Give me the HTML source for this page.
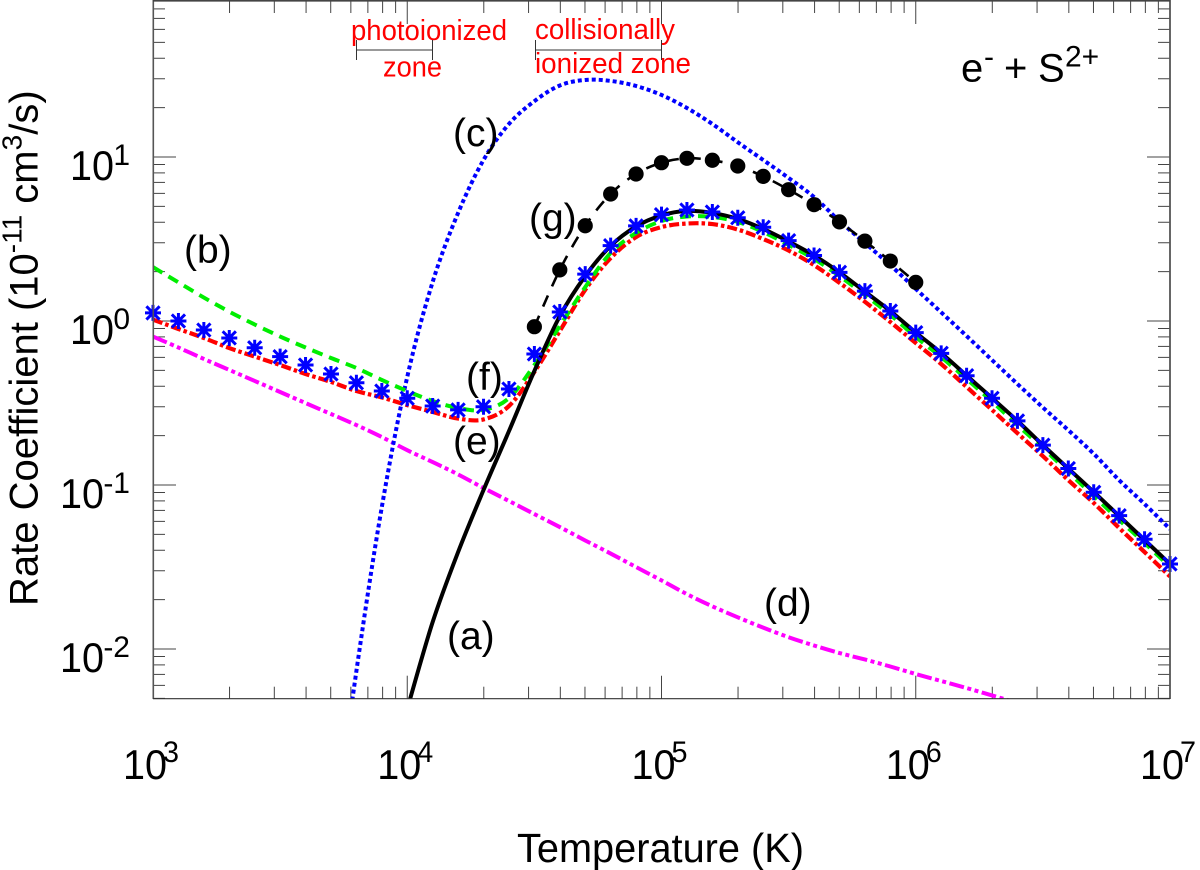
<!DOCTYPE html>
<html lang="en">
<head>
<meta charset="utf-8">
<title>Rate coefficient vs temperature</title>
<style>
html,body{margin:0;padding:0;background:#fff;}
svg{display:block;font-family:"Liberation Sans",sans-serif;}
</style>
</head>
<body>
<svg id="chart" xmlns="http://www.w3.org/2000/svg" width="1200" height="870" viewBox="0 0 1200 870">
  <defs>
    <clipPath id="plot-clip"><rect x="153" y="1" width="1017" height="697.7"/></clipPath>
  </defs>
  <rect x="0" y="0" width="1200" height="870" fill="#fff"/>
  <g id="ticks"></g>
  <g id="curves" clip-path="url(#plot-clip)"></g>
  <g id="markers"></g>
  <g id="frame">
    <line x1="153.3" y1="0" x2="153.3" y2="699" stroke="#555" stroke-width="1.6"/>
    <line x1="1170" y1="0" x2="1170" y2="699" stroke="#555" stroke-width="1.8"/>
    <line x1="153" y1="0.8" x2="1170" y2="0.8" stroke="#444" stroke-width="1.6"/>
    <line x1="153" y1="698.7" x2="1170" y2="698.7" stroke="#333" stroke-width="1.2"/>
  </g>
  <g id="tick-labels" fill="#000"></g>

  <text x="517" y="862" font-size="41" textLength="287" lengthAdjust="spacingAndGlyphs">Temperature (K)</text>
  <text transform="translate(37.7,606) rotate(-90)" font-size="40">Rate Coefficient (10<tspan font-size="28" dy="-16">-11</tspan><tspan dy="16"> cm</tspan><tspan font-size="28" dy="-16">3</tspan><tspan dy="16">/s)</tspan></text>

  <g>
    <text x="351" y="40" font-size="29" fill="#f00" textLength="156" lengthAdjust="spacingAndGlyphs">photoionized</text>
    <text x="383" y="76.5" font-size="29" fill="#f00" textLength="59" lengthAdjust="spacingAndGlyphs">zone</text>
    <path d="M356.5 40V60M356.5 50H432.5M432.5 40V60" fill="none" stroke="#333" stroke-width="1"/>
  </g>
  <g>
    <text x="535" y="39" font-size="29" fill="#f00" textLength="140" lengthAdjust="spacingAndGlyphs">collisionally</text>
    <text x="535" y="73" font-size="29" fill="#f00" textLength="156" lengthAdjust="spacingAndGlyphs">ionized zone</text>
    <path d="M535.5 40V60M535.5 50H661.5M661.5 40V60" fill="none" stroke="#333" stroke-width="1"/>
  </g>

  <g fill="#000">
    <text x="961" y="81.5" font-size="40">e</text>
    <text x="984" y="66.5" font-size="30">-</text>
    <text x="1004" y="81.5" font-size="40">+</text>
    <text x="1038" y="81.5" font-size="40">S</text>
    <text x="1065" y="66.5" font-size="30">2+</text>
  </g>

  <g font-size="39" fill="#000">
    <text x="447" y="649">(a)</text>
    <text x="184" y="263">(b)</text>
    <text x="453" y="146">(c)</text>
    <text x="764" y="616">(d)</text>
    <text x="453" y="454">(e)</text>
    <text x="466" y="390">(f)</text>
    <text x="529" y="231">(g)</text>
  </g>
</svg>
<script>
// log10 of temperature (K) for each series
const logTempFull = [3.0,3.1,3.2,3.3,3.4,3.5,3.6,3.7,3.8,3.9,4.0,4.1,4.2,4.3,4.4,4.5,4.6,4.7,4.8,4.9,5.0,5.1,5.2,5.3,5.4,5.5,5.6,5.7,5.8,5.9,6.0,6.1,6.2,6.3,6.4,6.5,6.6,6.7,6.8,6.9,7.0];
const logTempA = [4.0,4.1,4.2,4.3,4.4,4.5,4.6,4.7,4.8,4.9,5.0,5.1,5.2,5.3,5.4,5.5,5.6,5.7,5.8,5.9,6.0,6.1,6.2,6.3,6.4,6.5,6.6,6.7,6.8,6.9,7.0];
const logTempC = [3.7,3.8,3.9,4.0,4.1,4.2,4.3,4.4,4.5,4.6,4.7,4.8,4.9,5.0,5.1,5.2,5.3,5.4,5.5,5.6,5.7,5.8,5.9,6.0,6.1,6.2,6.3,6.4,6.5,6.6,6.7,6.8,6.9,7.0];
const logTempD = [3.0,3.1,3.2,3.3,3.4,3.5,3.6,3.7,3.8,3.9,4.0,4.1,4.2,4.3,4.4,4.5,4.6,4.7,4.8,4.9,5.0,5.1,5.2,5.3,5.4,5.5,5.6,5.7,5.8,5.9,6.0,6.1,6.2,6.3,6.4];
const logTempG = [4.5,4.6,4.7,4.8,4.9,5.0,5.1,5.2,5.3,5.4,5.5,5.6,5.7,5.8,5.9,6.0];

// rate coefficients in units of 1e-11 cm^3/s
const rateA = [0.00431,0.0146,0.039,0.0932,0.213,0.496,1.07,1.88,2.87,3.77,4.40,4.69,4.56,4.19,3.64,3.05,2.51,1.98,1.51,1.15,0.851,0.638,0.465,0.339,0.246,0.175,0.126,0.0907,0.0647,0.0462,0.033];
const rateB = [2.13,1.72,1.39,1.14,0.952,0.804,0.689,0.595,0.517,0.437,0.374,0.325,0.295,0.287,0.339,0.539,0.932,1.61,2.60,3.44,4.07,4.34,4.31,4.02,3.49,2.91,2.39,1.88,1.44,1.09,0.799,0.603,0.443,0.323,0.232,0.168,0.12,0.0857,0.0612,0.0443,0.0316];
const rateC = [0.000516,0.00734,0.0734,0.456,1.73,4.56,9.59,15.9,21.9,27.3,29.5,29.1,27.1,23.9,19.9,15.9,12.3,9.59,7.45,5.70,4.07,2.99,2.19,1.57,1.13,0.81,0.578,0.413,0.297,0.216,0.155,0.107,0.0766,0.0539];
const rateD = [0.804,0.689,0.587,0.503,0.431,0.369,0.316,0.271,0.232,0.196,0.163,0.138,0.116,0.0959,0.0799,0.0665,0.0554,0.0459,0.0382,0.0316,0.0262,0.0216,0.0182,0.0156,0.0135,0.0118,0.0105,0.00945,0.00863,0.00782,0.00704,0.00638,0.00578,0.00521,0.00469];
const rateE = [1.02,0.894,0.788,0.684,0.607,0.539,0.475,0.425,0.374,0.342,0.307,0.279,0.254,0.251,0.303,0.489,0.869,1.55,2.42,3.25,3.74,3.93,3.90,3.61,3.16,2.69,2.19,1.71,1.31,0.986,0.734,0.547,0.396,0.287,0.207,0.15,0.107,0.0777,0.0547,0.039,0.0277];
const rateF = [1.12,1.00,0.881,0.788,0.687,0.606,0.539,0.475,0.42,0.374,0.338,0.303,0.287,0.30,0.385,0.629,1.135,1.93,2.88,3.80,4.45,4.75,4.62,4.26,3.73,3.09,2.51,1.98,1.52,1.15,0.849,0.635,0.464,0.338,0.246,0.175,0.126,0.0903,0.065,0.0467,0.033];
const rateG = [0.923,2.05,3.81,5.95,7.88,9.23,9.82,9.55,8.81,7.62,6.32,5.12,4.02,3.07,2.32,1.72];

// axis tick exponents and minor multipliers
const xTickExponents = [3,4,5,6,7];
const yTickExponents = [1,0,-1,-2];
const xDecades = [3,4,5,6];
const yDecades = [-3,-2,-1,0,1];
const minorMultipliers = [2,3,4,5,6,7,8,9];

const NS = 'http://www.w3.org/2000/svg';
const yMinLog = Math.log10(0.005), yMaxLog = Math.log10(90);
function xAxis(logT){ return 153 + (logT - 3) * 254.25; }
function yAxis(rate){ return 321 - Math.log10(rate) * 164; }
function make(tag, attrs, parent){
  const el = document.createElementNS(NS, tag);
  for (const k in attrs) el.setAttribute(k, attrs[k]);
  parent.appendChild(el);
  return el;
}
function smoothPath(xs, ys){
  const p = xs.map((t,i)=>[xAxis(t), yAxis(ys[i])]);
  let d = 'M' + p[0][0].toFixed(2) + ' ' + p[0][1].toFixed(2);
  for (let i = 0; i < p.length - 1; i++){
    const a = p[Math.max(i-1,0)], b = p[i], c = p[i+1], e = p[Math.min(i+2,p.length-1)];
    const c1x = b[0] + (c[0]-a[0])/6, c1y = b[1] + (c[1]-a[1])/6;
    const c2x = c[0] - (e[0]-b[0])/6, c2y = c[1] - (e[1]-b[1])/6;
    d += 'C' + [c1x,c1y,c2x,c2y,c[0],c[1]].map(v=>v.toFixed(2)).join(' ');
  }
  return d;
}

// ticks
const tickG = document.getElementById('ticks');
function xTick(logT, len){
  const x = xAxis(logT);
  const low = make('line',{x1:x,x2:x,y1:698.7,y2:698.7-len,stroke:'#444','stroke-width':1},tickG);
  
  
  const up = make('line',{x1:x,x2:x,y1:1,y2:1+len,stroke:'#444','stroke-width':1},tickG);
  
  
}
function yTick(rate, len){
  const y = yAxis(rate);
  const l = make('line',{x1:153,x2:153+len,y1:y,y2:y,stroke:'#444','stroke-width':1},tickG);
  
  
  const r = make('line',{x1:1170,x2:1170-len,y1:y,y2:y,stroke:'#444','stroke-width':1},tickG);
  
  
}
xTickExponents.forEach(e => xTick(e, 23));
xDecades.forEach(e => minorMultipliers.forEach(m => xTick(e + Math.log10(m), 12)));
yTickExponents.forEach(e => yTick(Math.pow(10,e), 23));
yDecades.forEach(e => minorMultipliers.forEach(m => {
  const lg = e + Math.log10(m);
  if (lg >= yMinLog && lg <= yMaxLog) yTick(Math.pow(10,lg), 12);
}));

// tick labels
const labelG = document.getElementById('tick-labels');
xTickExponents.forEach(e => {
  const x = xAxis(e);
  const base = make('text',{x:x-30,y:779,'font-size':42,textLength:44,lengthAdjust:'spacingAndGlyphs'},labelG);
  base.textContent = '10';
  
  
  const sup = make('text',{x:x+10,y:762,'font-size':30,textLength:16,lengthAdjust:'spacingAndGlyphs'},labelG);
  sup.textContent = String(e);
  
  
});
yTickExponents.forEach(e => {
  const y = yAxis(Math.pow(10,e));
  const base = make('text',{x:e < 0 ? 60 : 70,y:y+23,'font-size':42,textLength:44,lengthAdjust:'spacingAndGlyphs'},labelG);
  base.textContent = '10';
  
  
  const sup = make('text',{x:130,y:y+8,'font-size':30,'text-anchor':'end'},labelG);
  sup.textContent = String(e);
  
  
});

// curves
const curveG = document.getElementById('curves');
function drawCurve(name, xs, ys, stroke, width, dash){
  const el = make('path',{d:smoothPath(xs,ys),fill:'none',stroke:stroke,'stroke-width':width,'stroke-dasharray':dash || 'none'},curveG);
  
  
}
drawCurve('curve-d-magenta', logTempD, rateD, '#f0f', 4, '15 3.5 4 3.5 4 3.5');
drawCurve('curve-c-blue', logTempC, rateC, '#00f', 4, '4 3');
drawCurve('curve-e-red', logTempFull, rateE, '#f00', 4.2, '10 3 3.5 3');
drawCurve('curve-b-green', logTempFull, rateB, '#0e0', 4, '11 7');
drawCurve('curve-a-black', logTempA, rateA, '#000', 4, '');
drawCurve('curve-g-black-dashed', logTempG, rateG, '#000', 2.6, '12 10');

// markers
const markerG = document.getElementById('markers');
logTempG.forEach((t,i) => {
  const c = make('circle',{cx:xAxis(t),cy:yAxis(rateG[i]),r:7.6,fill:'#000'},markerG);
  
  
});
logTempFull.forEach((t,i) => {
  const x = xAxis(t), y = yAxis(rateF[i]), r = 8, q = 6.6;
  const d = 'M'+x+' '+(y-r)+'V'+(y+r)+'M'+(x-r)+' '+y+'H'+(x+r)+'M'+(x-q)+' '+(y-q)+'L'+(x+q)+' '+(y+q)+'M'+(x-q)+' '+(y+q)+'L'+(x+q)+' '+(y-q);
  const s = make('path',{d:d,fill:'none',stroke:'#00f','stroke-width':3},markerG);
  
  
});
</script>
</body>
</html>
